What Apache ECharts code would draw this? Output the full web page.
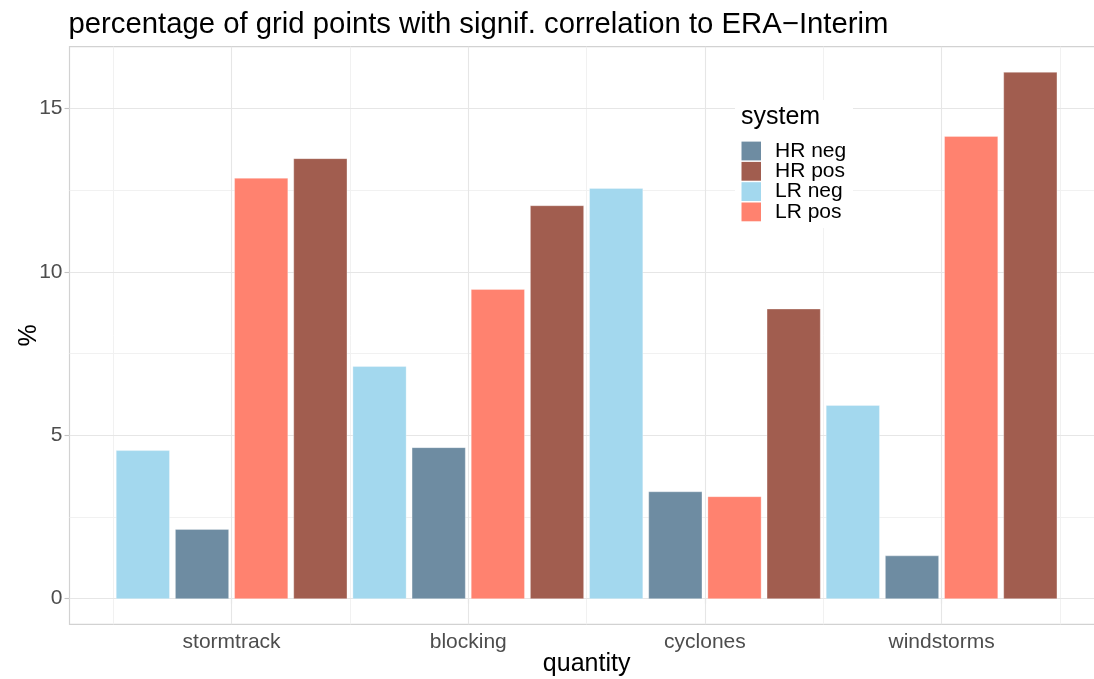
<!DOCTYPE html>
<html><head><meta charset="utf-8">
<script src="https://cdn.jsdelivr.net/npm/echarts@6/dist/echarts.min.js"></script>
<style>html,body{margin:0;padding:0;background:#fff}#c{width:1094px;height:679px}</style>
</head><body><div id="c"></div>
<script>
// ---- data ----
const categories = ['stormtrack', 'blocking', 'cyclones', 'windstorms'];
const dodgeOrder = ['LR neg', 'HR neg', 'LR pos', 'HR pos'];
const legendOrder = ['HR neg', 'HR pos', 'LR neg', 'LR pos'];
const lrNeg = [4.53, 7.10, 12.55, 5.91];
const hrNeg = [2.12, 4.62, 3.27, 1.31];
const lrPos = [12.86, 9.46, 3.12, 14.14];
const hrPos = [13.46, 12.02, 8.86, 16.10];
const yTicks = [0, 5, 10, 15];
const yMinorTicks = [2.5, 7.5, 12.5];
const xTicks = [1, 2, 3, 4];
const xMinorTicks = [0.5, 1.5, 2.5, 3.5, 4.5];

const valuesByName = { 'LR neg': lrNeg, 'HR neg': hrNeg, 'LR pos': lrPos, 'HR pos': hrPos };
const colors = { 'HR neg': '#6E8CA2', 'HR pos': '#A15D4F', 'LR neg': '#A3D8EE', 'LR pos': '#FF826F' };
const FONT = '"Liberation Sans", Arial, Helvetica, sans-serif';
const nSlots = dodgeOrder.length;
const pad = 0.05;

function makeRender(slot) {
  return function (params, api) {
    const cat = api.value(0), v = api.value(1);
    const w = 1 / nSlots;
    const x0 = cat - 0.5 + slot * w + w * pad;
    const x1 = cat - 0.5 + (slot + 1) * w - w * pad;
    const p0 = api.coord([x0, v]);
    const p1 = api.coord([x1, 0]);
    return {
      type: 'rect',
      shape: { x: p0[0], y: p0[1], width: p1[0] - p0[0], height: p1[1] - p0[1] },
      style: { fill: api.visual('color'), stroke: 'rgba(255,255,255,0.5)', lineWidth: 0.6 }
    };
  };
}

const barSeries = dodgeOrder.map((name, slot) => ({
  name: name,
  type: 'custom',
  z: 3,
  itemStyle: { color: colors[name] },
  encode: { x: 0, y: 1 },
  renderItem: makeRender(slot),
  data: categories.map((c, i) => [i + 1, valuesByName[name][i]])
}));

const majorLine = { color: '#e6e6e6', width: 1.1, type: 'solid' };
const minorLine = { color: '#f1f1f1', width: 1, type: 'solid' };
const gridSeries = {
  name: 'grid', type: 'line', data: [], silent: true, z: 1,
  markLine: {
    silent: true, symbol: ['none', 'none'], label: { show: false }, z: 1, animation: false,
    data: [
      ...xMinorTicks.map(v => ({ xAxis: v, lineStyle: minorLine })),
      ...yMinorTicks.map(v => ({ yAxis: v, lineStyle: minorLine })),
      ...xTicks.map(v => ({ xAxis: v, lineStyle: majorLine })),
      ...yTicks.map(v => ({ yAxis: v, lineStyle: majorLine }))
    ]
  }
};

const chart = echarts.init(document.getElementById('c'), null, { renderer: 'canvas' });
chart.setOption({
  animation: false,
  backgroundColor: '#ffffff',
  textStyle: { fontFamily: FONT },
  title: [
    { text: 'percentage of grid points with signif. correlation to ERA\u2212Interim', left: 68.5, top: 10, padding: 0,
      textStyle: { fontFamily: FONT, fontSize: 29.3, fontWeight: 'normal', color: '#000' } },
    { text: 'system', left: 741, top: 105, padding: 0, z: 12,
      textStyle: { fontFamily: FONT, fontSize: 25, fontWeight: 'normal', color: '#000' } }
  ],
  graphic: [
    { type: 'rect', left: 735, top: 100, z: 10, shape: { width: 118, height: 128 }, style: { fill: '#ffffff' } }
  ],
  legend: {
    orient: 'vertical', left: 741.5, top: 140.5, padding: 0, z: 12,
    data: legendOrder, icon: 'rect', itemWidth: 19.5, itemHeight: 18.8, itemGap: -0.7,
    selectedMode: false,
    textStyle: { fontFamily: FONT, fontSize: 21, color: '#000', lineHeight: 19.5, padding: [0, 0, 0, 9] }
  },
  grid: { left: 69.5, right: -9.7, top: 46.7, bottom: 54.7, show: true, borderColor: '#d2d2d2', borderWidth: 1.2,
    backgroundColor: 'transparent', outerBoundsMode: 'none', containLabel: false },
  xAxis: {
    type: 'value', min: 0.315, max: 4.685,
    name: 'quantity', nameLocation: 'middle', nameGap: 27, nameMoveOverlap: false,
    nameTextStyle: { fontFamily: FONT, fontSize: 25, color: '#000', verticalAlign: 'top' },
    axisLine: { show: false },
    axisTick: { show: true, customValues: xTicks, length: 5, lineStyle: { color: '#c4c4c4', width: 1.1 } },
    axisLabel: { customValues: xTicks, margin: 7, fontFamily: FONT, fontSize: 21, color: '#4d4d4d',
      formatter: v => categories[Math.round(v) - 1] },
    splitLine: { show: false }
  },
  yAxis: {
    type: 'value', min: -0.783, max: 16.884,
    name: '%', nameLocation: 'middle', nameGap: 28, nameRotate: 90, nameMoveOverlap: false,
    nameTextStyle: { fontFamily: FONT, fontSize: 25, color: '#000' },
    axisLine: { show: false },
    axisTick: { show: true, customValues: yTicks, length: 5, lineStyle: { color: '#c4c4c4', width: 1.1 } },
    axisLabel: { customValues: yTicks, margin: 7, fontFamily: FONT, fontSize: 21, color: '#4d4d4d',
      formatter: v => String(Math.round(v)) },
    splitLine: { show: false }
  },
  series: [gridSeries, ...barSeries]
});
</script>
</body></html>
